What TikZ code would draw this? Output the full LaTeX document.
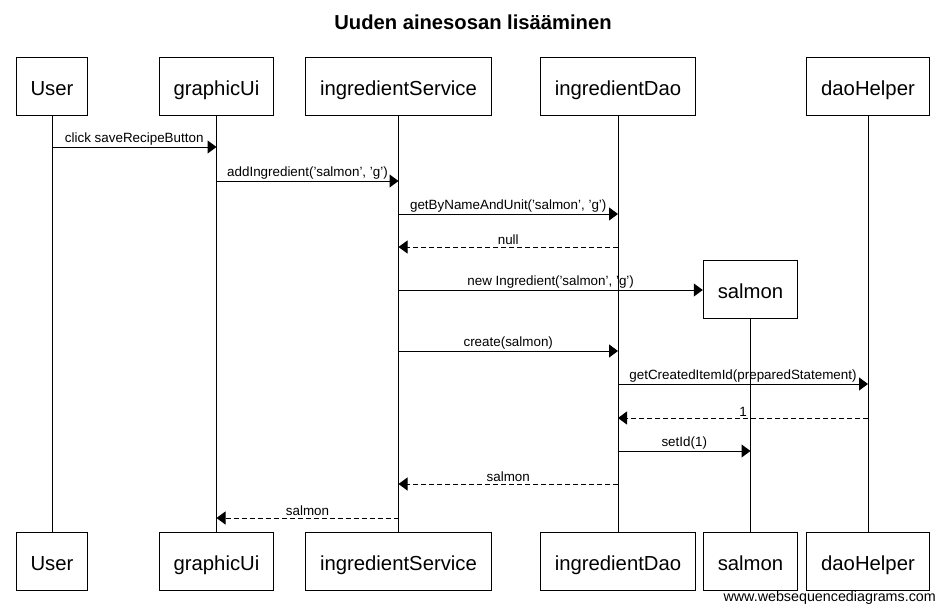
\documentclass[tikz,border=0pt]{standalone}
\usepackage{fontspec}
\setmainfont{Liberation Sans}
\usetikzlibrary{positioning,arrows.meta}
\begin{document}
\begin{tikzpicture}[
              x=1pt, y=-1pt,
              actor/.style={rectangle, draw, fill=white, line width=1pt, inner xsep=14.5pt, minimum height=58pt, text height=22pt, text depth=4pt, font=\fontsize{20.3}{24}\selectfont},
              life/.style={line width=1pt},
              msg/.style={-{Triangle[length=9pt, width=13pt]}, line width=1pt},
              reply/.style={msg, dash pattern=on 5pt off 3pt},
              lbl/.style={above, inner sep=1.5pt, font=\fontsize{13.4}{15}\selectfont}
            ]
              \useasboundingbox (0,0) rectangle (943,613);

              % Title
              \node[font=\bfseries\fontsize{20.2}{24}\selectfont] (title) at (473,22) {Uuden ainesosan lis\"a\"aminen};

              % Define participant boxes
              \node[actor] (User) at (52,86) {User};
              \node[actor] (Ui) at (216.5,86) {graphicUi};
              \node[actor] (Service) at (398.5,86) {ingredientService};
              \node[actor] (Dao) at (618,86) {ingredientDao};
              \node[actor] (Helper) at (868,86) {daoHelper};
              \node[actor] (Salmon) at (750.5,289) {salmon};

              \node[actor] (UserB) at (52,561) {User};
              \node[actor] (UiB) at (216.5,561) {graphicUi};
              \node[actor] (ServiceB) at (398.5,561) {ingredientService};
              \node[actor] (DaoB) at (618,561) {ingredientDao};
              \node[actor] (SalmonB) at (750.5,561) {salmon};
              \node[actor] (HelperB) at (868,561) {daoHelper};

              % Draw lifelines
              \draw[life] (User) -- (UserB);
              \draw[life] (Ui) -- (UiB);
              \draw[life] (Service) -- (ServiceB);
              \draw[life] (Dao) -- (DaoB);
              \draw[life] (Salmon) -- (SalmonB);
              \draw[life] (Helper) -- (HelperB);

              % Draw messages
              \draw[msg] (User |- 0,147) -- node[lbl] {click saveRecipeButton} (Ui |- 0,147);
              \draw[msg] (Ui |- 0,181) -- node[lbl] {addIngredient('salmon', 'g')} (Service |- 0,181);
              \draw[msg] (Service |- 0,214) -- node[lbl] {getByNameAndUnit('salmon', 'g')} (Dao |- 0,214);
              \draw[reply] (Dao |- 0,247) -- node[lbl] {null} (Service |- 0,247);
              \draw[msg] (Service |- 0,290) -- node[lbl] {new Ingredient('salmon', 'g')} (Salmon.west |- 0,290);
              \draw[msg] (Service |- 0,351) -- node[lbl] {create(salmon)} (Dao |- 0,351);
              \draw[msg] (Dao |- 0,384) -- node[lbl] {getCreatedItemId(preparedStatement)} (Helper |- 0,384);
              \draw[reply] (Helper |- 0,418) -- node[lbl] {1} (Dao |- 0,418);
              \draw[msg] (Dao |- 0,451) -- node[lbl] {setId(1)} (Salmon |- 0,451);
              \draw[reply] (Dao |- 0,484) -- node[lbl] {salmon} (Service |- 0,484);
              \draw[reply] (Service |- 0,518) -- node[lbl] {salmon} (Ui |- 0,518);

              % Add watermark
              \node[anchor=east, inner sep=0pt, font=\fontsize{14.3}{16}\selectfont] (mark) at (936,598) {www.websequencediagrams.com};
            \end{tikzpicture}
\end{document}
